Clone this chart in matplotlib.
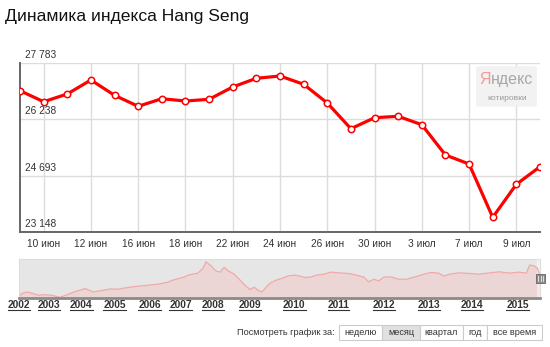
import numpy as np
import matplotlib
matplotlib.use("Agg")
import matplotlib.pyplot as plt
import matplotlib.transforms as mtransforms
from matplotlib.patches import Rectangle, FancyBboxPatch
from matplotlib.lines import Line2D

plt.rcParams['font.family'] = ['Liberation Sans', 'DejaVu Sans']

# daily closes, Hang Seng, June-July 2015
dates = ["9 июн", "10 июн", "11 июн", "12 июн", "15 июн", "16 июн", "17 июн",
         "18 июн", "19 июн", "22 июн", "23 июн", "24 июн", "25 июн", "26 июн",
         "29 июн", "30 июн", "2 июл", "3 июл", "6 июл", "7 июл", "8 июл",
         "9 июл", "10 июл"]
values = [27016, 26715, 26926, 27309, 26890, 26589, 26797, 26734, 26781,
          27118, 27356, 27419, 27192, 26680, 25976, 26277, 26315, 26085,
          25256, 25009, 23550, 24454, 24935]
y_ticks = [23148, 24693, 26238, 27783]

# navigator: whole history (fractional year, level)
nav_dates = [2002.0, 2002.1, 2002.27, 2002.43, 2002.67, 2002.83, 2003.09, 2003.34,
             2003.56, 2003.81, 2004.12, 2004.36, 2004.64, 2004.88, 2005.09, 2005.37,
             2005.66, 2005.94, 2006.26, 2006.58, 2006.74, 2006.97, 2007.13, 2007.22,
             2007.53, 2007.69, 2007.78, 2007.91, 2008.08, 2008.19, 2008.3, 2008.41,
             2008.57, 2008.68, 2008.81, 2008.89, 2009.0, 2009.09, 2009.18, 2009.27,
             2009.36, 2009.45, 2009.59, 2009.73, 2009.86, 2010.0, 2010.14, 2010.23,
             2010.36, 2010.5, 2010.68, 2010.82, 2011.0, 2011.22, 2011.4, 2011.56,
             2011.67, 2011.78, 2011.89, 2012.0, 2012.16, 2012.33, 2012.51, 2012.67,
             2012.89, 2013.05, 2013.23, 2013.35, 2013.47, 2013.7, 2013.93, 2014.16,
             2014.38, 2014.6, 2014.82, 2015.04, 2015.2, 2015.27, 2015.38, 2015.44,
             2015.49]
nav_values = [8605, 11036, 11890, 11036, 9722, 10182, 9722, 8408,
              10182, 12153, 14124, 11890, 12997, 13861, 13664, 14781,
              15635, 16292, 16949, 18263, 19577, 20891, 21745, 22862,
              24176, 27264, 31600, 29432, 25687, 24833, 27921, 25687,
              23519, 20891, 17606, 15635, 13467, 14978, 12997, 11890,
              14978, 17606, 19577, 20891, 22402, 22862, 22205, 21351,
              21548, 22862, 23519, 24833, 24373, 23979, 22862, 21548,
              18460, 20234, 19117, 21548, 21745, 20234, 20234, 21548,
              23519, 24636, 24176, 22205, 23519, 24373, 23979, 23519,
              24373, 25030, 24176, 24833, 24176, 29432, 28775, 27461,
              23519]
nav_years = list(range(2002, 2016))
# the navigator's time axis is not uniform: where each year starts on it
nav_year_px = [22, 52, 84, 117, 152, 183, 215, 252, 296, 340, 385, 430, 473, 518]

periods = ["неделю", "месяц", "квартал", "год", "все время"]
active_period = "месяц"

W, H = 550, 347
fig = plt.figure(figsize=(W / 100, H / 100), dpi=100)


def fx(px):
    return px / W


def fy(py):
    return 1 - py / H


fig.text(fx(5), fy(17), "Динамика индекса Hang Seng", fontsize=12.6,
         color="#111111", va="center", ha="left")

# main chart
ax = fig.add_axes([fx(20), fy(232), fx(520), (232 - 62.7) / H])
x = np.arange(len(values))
ax.plot(x, values, color="#ff0000", lw=2.3, marker="o", ms=4.6,
        mfc="white", mec="#ff0000", mew=1.1, zorder=5)
ax.set_xlim(0, len(values) - 1)
ax.set_ylim(y_ticks[0], y_ticks[-1])
ax.set_xticks(x[1::2])
ax.set_xticklabels(dates[1::2])
ax.set_yticks(y_ticks)
ax.set_yticklabels([])
ax.grid(True, color="#dcdcdc", lw=1)
ax.set_axisbelow(True)
ax.tick_params(length=0, labelsize=7.3, labelcolor="#333333", pad=5)
for s in ["top", "right"]:
    ax.spines[s].set_visible(False)
for s in ["left", "bottom"]:
    ax.spines[s].set_color("#666666")
    ax.spines[s].set_linewidth(1.4)
blend = mtransforms.blended_transform_factory(ax.transAxes, ax.transData)
lift = mtransforms.ScaledTranslation(0, 2 / 72, fig.dpi_scale_trans)
for v in y_ticks:
    # value label sits just above its gridline
    ax.text(0.01, v, f"{v:,}".replace(",", " "), transform=blend + lift,
            fontsize=7.3, color="#333333", va="bottom", ha="left")

# yandex badge
ax.add_patch(FancyBboxPatch((0.877, 0.74), 0.117, 0.24, transform=ax.transAxes,
                            boxstyle="round,pad=0,rounding_size=0.01",
                            fc="#f2f2f2", ec="none", zorder=3))
t1 = ax.text(0.884, 0.855, "Я", transform=ax.transAxes, fontsize=11.5,
             color="#f39a9a", va="bottom", ha="left", zorder=4)
ax.annotate("ндекс", xy=(1, 0), xycoords=t1, fontsize=11.5, color="#a8a8a8",
            va="bottom", ha="left", zorder=4)
ax.text(0.936, 0.79, "котировки", transform=ax.transAxes, fontsize=6,
        color="#999999", va="center", ha="center", zorder=4)

# navigator
ax2 = fig.add_axes([fx(19), fy(297.5), fx(521), 38.5 / H])
fwd = lambda d: np.interp(d, nav_years + [2016], nav_year_px + [563])
inv = lambda p: np.interp(p, nav_year_px + [563], nav_years + [2016])
ax2.set_xscale("function", functions=(fwd, inv))
ax2.set_xlim(2001.95, 2015.5)
ax2.set_ylim(8300, 33400)
ax2.set_facecolor("#e6e6e6")
ax2.fill_between(nav_dates, nav_values, 8300, color="#ebd5d5", lw=0)
ax2.plot(nav_dates, nav_values, color="#f2a8a8", lw=0.9)
ax2.axvspan(nav_dates[-2], 2015.5, color="white", alpha=0.5, lw=0)
ax2.set_yticks([])
ax2.set_xticks(nav_years)
ax2.set_xticklabels([str(yv) for yv in nav_years])
ax2.tick_params(length=0, labelsize=7.4, labelcolor="#333333", pad=1.5)
for lab in ax2.get_xticklabels():
    lab.set_fontweight("bold")
for s in ["top", "left", "right"]:
    ax2.spines[s].set_color("#dddddd")
    ax2.spines[s].set_linewidth(0.8)
ax2.spines["bottom"].set_color("#8a8a8a")
ax2.spines["bottom"].set_linewidth(2)
ax2.add_patch(Rectangle((0.993, 0.37), 0.016, 0.25, transform=ax2.transAxes,
                        fc="#8c8c8c", ec="#666666", lw=0.6, clip_on=False, zorder=6))
for k in range(3):
    ax2.add_line(Line2D([0.997 + k * 0.004] * 2, [0.42, 0.57], transform=ax2.transAxes,
                        color="#eeeeee", lw=0.6, clip_on=False, zorder=7))

# period buttons
fig.text(fx(335), fy(332.5), "Посмотреть график за:", fontsize=6.6, color="#333333",
         ha="right", va="center")
btn_edges = [339, 382, 420, 463, 487, 542]
for i, p in enumerate(periods):
    x0, x1 = btn_edges[i], btn_edges[i + 1]
    fig.add_artist(Rectangle((fx(x0), fy(340)), fx(x1 - x0), 15 / H,
                             transform=fig.transFigure,
                             fc="#e0e0e0" if p == active_period else "white",
                             ec="#cccccc", lw=0.8))
    fig.text(fx((x0 + x1) / 2), fy(332.5), p, fontsize=6.6, color="#333333",
             ha="center", va="center")

# underline the year labels
fig.canvas.draw()
for lab in ax2.get_xticklabels():
    bb = lab.get_window_extent()
    fig.add_artist(Line2D([bb.x0 / W, bb.x1 / W], [(bb.y0 - 0.5) / H] * 2,
                          transform=fig.transFigure, color="#333333", lw=0.8))

fig.savefig("out.png", dpi=100)
